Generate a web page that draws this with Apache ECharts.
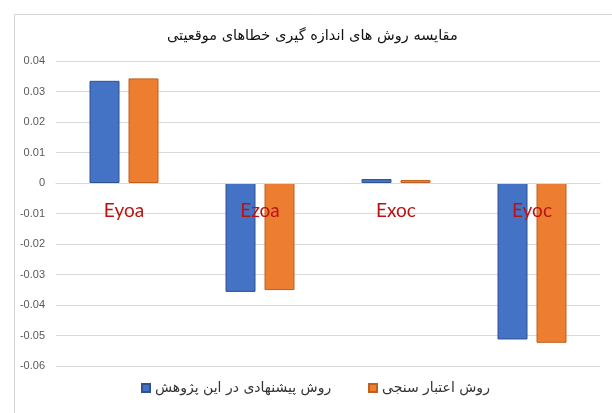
<!DOCTYPE html>
<html>
<head>
<meta charset="utf-8">
<script src="https://cdn.jsdelivr.net/npm/echarts@6/dist/echarts.min.js"></script>
<style>
  html, body { margin: 0; padding: 0; background: #fff; }
  #chart { width: 612px; height: 413px; }
</style>
</head>
<body>
<div id="chart"></div>
<script>
// داده ها
var categories = ['Eyoa', 'Ezoa', 'Exoc', 'Eyoc'];
var proposed = [0.0335, -0.0357, 0.0013, -0.0513];   // روش پیشنهادی در این پژوهش
var validation = [0.0343, -0.0351, 0.0010, -0.0524]; // روش اعتبار سنجی
var seriesNames = ['روش پیشنهادی در این پژوهش', 'روش اعتبار سنجی'];
var chartTitle = 'مقایسه روش های اندازه گیری خطاهای موقعیتی';
var yMin = -0.06, yMax = 0.04, yStep = 0.01;

var faFont = 'DejaVu Sans';
var gridTop = 61, gridBottom = 47, H = 413;
var plotH = H - gridTop - gridBottom;
// x axis sits on the zero line, like the excel chart
var zeroOffset = -plotH * (0 - yMin) / (yMax - yMin);

var legendText = { fontFamily: faFont, fontSize: 14, color: '#333' };

var option = {
  backgroundColor: '#fff',
  animation: false,
  title: {
    text: chartTitle,
    left: 162,
    top: 24,
    textStyle: { fontFamily: faFont, fontSize: 14.5, fontWeight: 'normal', color: '#111' }
  },
  graphic: [{
    type: 'rect',
    left: 12, top: 12,
    shape: { width: 700, height: 500 },
    style: { fill: 'none', stroke: '#d4d4d4', lineWidth: 1 },
    silent: true
  }],
  legend: [
    {
      data: [seriesNames[0]],
      left: 136, bottom: 13,
      icon: 'rect', itemWidth: 8, itemHeight: 8, itemGap: 6,
      textStyle: legendText
    },
    {
      data: [seriesNames[1]],
      left: 363, bottom: 13,
      icon: 'rect', itemWidth: 8, itemHeight: 8, itemGap: 6,
      textStyle: legendText
    }
  ],
  grid: { left: 56, right: 12, top: gridTop, bottom: gridBottom },
  xAxis: {
    type: 'category',
    data: categories,
    z: 10,
    offset: zeroOffset,
    axisLine: { onZero: false, lineStyle: { color: '#d9d9d9' } },
    axisTick: { show: false },
    axisLabel: {
      margin: 18,
      fontFamily: 'Lato',
      fontSize: 19,
      color: '#b81414'
    }
  },
  yAxis: {
    type: 'value',
    min: yMin,
    max: yMax,
    interval: yStep,
    axisLine: { show: false },
    axisTick: { show: false },
    splitLine: { lineStyle: { color: '#d9d9d9', width: 1 } },
    axisLabel: {
      margin: 11,
      fontFamily: 'Liberation Sans',
      fontSize: 11,
      color: '#595959',
      formatter: function (v) {
        if (Math.abs(v) < 1e-9) return '0';
        return v.toFixed(2);
      }
    }
  },
  series: [
    {
      name: seriesNames[0],
      type: 'bar',
      data: proposed,
      barWidth: 30,
      barGap: '30%',
      itemStyle: { color: '#4472c4', borderColor: '#2f528f', borderWidth: 1 }
    },
    {
      name: seriesNames[1],
      type: 'bar',
      data: validation,
      barWidth: 30,
      itemStyle: { color: '#ed7d31', borderColor: '#c0601f', borderWidth: 1 }
    }
  ]
};

var chart = echarts.init(document.getElementById('chart'));
chart.setOption(option);
</script>
</body>
</html>
